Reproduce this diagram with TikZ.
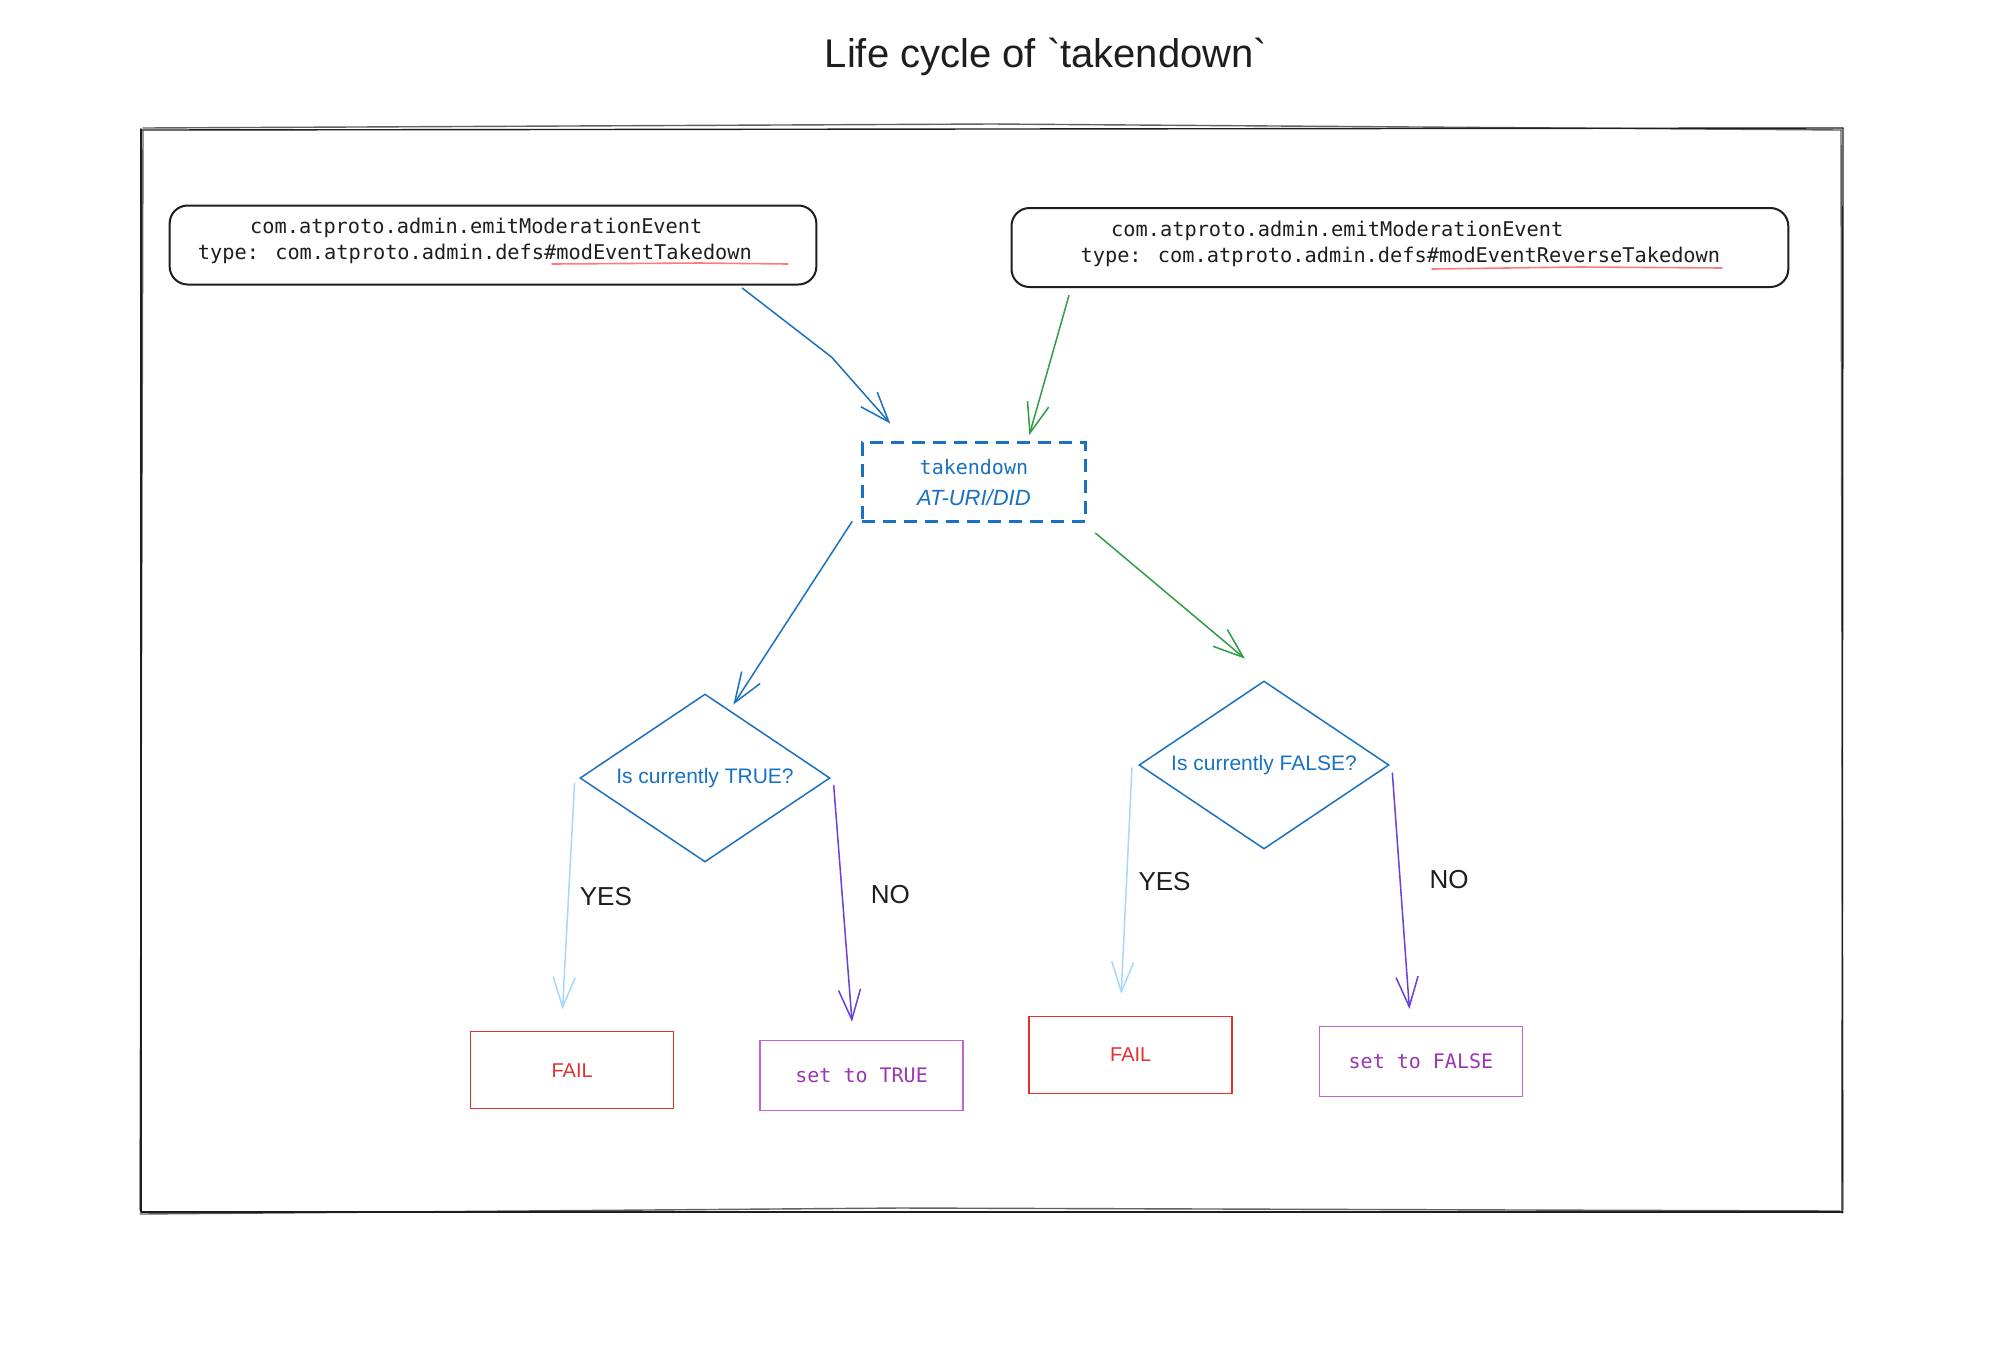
\documentclass[tikz,border=0pt]{standalone}
\usepackage{fontspec}
\usetikzlibrary{arrows.meta,shapes.geometric}
\newfontfamily\sansf{Liberation Sans}
\newfontfamily\monof{DejaVu Sans Mono}
\newfontfamily\titlef{Liberation Sans}
\definecolor{exdark}{HTML}{1E1E1E}
\definecolor{exblue}{HTML}{1971C2}
\definecolor{exgreen}{HTML}{2F9E44}
\definecolor{exlightblue}{HTML}{A5D8FF}
\definecolor{exviolet}{HTML}{6741D9}
\definecolor{exred}{HTML}{E03131}
\definecolor{expurple}{HTML}{9C36B5}
\definecolor{exboxpurple}{HTML}{C065D6}
\definecolor{expink}{HTML}{FF7B7B}
\begin{document}
\begin{tikzpicture}[x=1pt,y=-1pt,
  frame/.style={draw=exdark, line width=1.4pt, line cap=round, line join=round},
  cmdbox/.style={draw=exdark, line width=2pt, rounded corners=18pt, inner sep=0pt, minimum height=79pt},
  code/.style={font={\monof\fontsize{20.3}{24}\selectfont}, text=exdark, anchor=west, inner sep=0pt},
  uline/.style={draw=expink, line width=1.6pt, line cap=round},
  corebox/.style={draw=exblue, line width=2.5pt, dash pattern=on 13pt off 8pt, minimum width=223pt, minimum height=79pt, inner sep=0pt, align=center, text=exblue, font={\monof\fontsize{20}{30.6}\selectfont}},
  dia/.style={diamond, aspect=1.5, draw=exblue, line width=1.5pt, minimum width=250pt, minimum height=168pt, inner sep=0pt, text=exblue, font={\sansf\fontsize{21}{25}\selectfont}},
  failbox/.style={draw=exred, line width=1.5pt, minimum width=203pt, minimum height=77pt, inner sep=0pt, text=exred, font={\sansf\fontsize{20}{24}\selectfont}},
  setbox/.style={draw=exboxpurple, line width=1.5pt, minimum width=203pt, minimum height=70pt, inner sep=0pt, text=expurple, font={\monof\fontsize{20}{24}\selectfont}},
  lbl/.style={font={\sansf\fontsize{26}{30}\selectfont}, text=exdark, inner sep=0pt},
  arr/.style={line width=1.5pt, line cap=round, line join=round, -{Straight Barb[length=30pt,width=22pt]}}
]
\useasboundingbox (0,0) rectangle (2000,1369);
\fill[white] (0,0) rectangle (2000,1369);

% title
\node[font={\titlef\fontsize{40}{46}\selectfont}, text=exdark, inner sep=0pt] (title) at (1046,57) {Life cycle of \textasciigrave takendown\textasciigrave};

% outer sketchy frame
\draw[frame] (141,130) -- (1843,128);
\draw[frame, draw opacity=0.7] (143,128) -- (992,124) -- (1841,130);
\draw[frame] (141,129) -- (141,1212);
\draw[frame, draw opacity=0.7] (143,131) -- (140,1210);
\draw[frame] (141,1212) -- (1843,1212);
\draw[frame, draw opacity=0.7] (140,1214) -- (900,1208) -- (1840,1211);
\draw[frame] (1843,128) -- (1842,1213);
\draw[frame, draw opacity=0.7] (1841,130) -- (1843,1210);

% command boxes
\node[cmdbox, minimum width=646.7pt] (box1) at (493,245) {};
\node[code] (b1l1) at (250,228.3) {com.atproto.admin.emitModerationEvent};
\node[code] (b1l2) at (197.7,253.8) {type: com.atproto.admin.defs\#modEventTakedown};
\draw[uline] (552,264) -- (700,263) -- (788,264);

\node[cmdbox, minimum width=776.8pt] (box2) at (1399.9,247.5) {};
\node[code] (b2l1) at (1111,230.9) {com.atproto.admin.emitModerationEvent};
\node[code] (b2l2) at (1080.4,256.4) {type: com.atproto.admin.defs\#modEventReverseTakedown};
\draw[uline] (1432,269) -- (1580,267) -- (1722,268);

% core node
\node[corebox] (core) at (973.9,482.2) {takendown\\{\sansf\itshape\fontsize{22}{30.6}\selectfont AT-URI/DID}};

% decisions
\node[dia] (d1) at (705,778) {Is currently TRUE?};
\node[dia] (d2) at (1264,765) {Is currently FALSE?};

% outcomes
\node[failbox] (fail1) at (572.1,1070.2) {FAIL};
\node[setbox] (true1) at (861.6,1075.3) {set to TRUE};
\node[failbox] (fail2) at (1130.7,1054.9) {FAIL};
\node[setbox] (false2) at (1420.9,1061.3) {set to FALSE};

% labels
\node[lbl] (yes1) at (605.9,896.7) {YES};
\node[lbl] (no1) at (890.3,894.1) {NO};
\node[lbl] (yes2) at (1164.5,881.4) {YES};
\node[lbl] (no2) at (1449,880) {NO};

% connectors
\draw[arr, exblue] ([xshift=249.3pt,yshift=-2.6pt]box1.south) -- (831.6,357.1) -- ([xshift=-83.6pt,yshift=17.9pt]core.north);
\draw[arr, exgreen] ([xshift=-331pt,yshift=-7.6pt]box2.south) -- ([xshift=55.4pt,yshift=6.4pt]core.north);
\draw[arr, exblue] ([xshift=-121.9pt,yshift=1.3pt]core.south) -- ([xshift=28.4pt,yshift=-11.3pt]d1.north);
\draw[arr, exgreen] ([xshift=8.9pt,yshift=-10.2pt]core.south east) -- ([xshift=-19.1pt,yshift=21.6pt]d2.north);
\draw[arr, exlightblue] ([xshift=-4.7pt,yshift=-5.2pt]d1.west) -- ([xshift=-9.6pt,yshift=21.7pt]fail1.north);
\draw[arr, exviolet] ([xshift=3pt,yshift=-7.7pt]d1.east) -- ([xshift=-9.6pt,yshift=17.8pt]true1.north);
\draw[arr, exlightblue] ([xshift=-6.3pt,yshift=-2.9pt]d2.west) -- ([xshift=-9.5pt,yshift=21.7pt]fail2.north);
\draw[arr, exviolet] ([xshift=2.6pt,yshift=-8pt]d2.east) -- ([xshift=-11.5pt,yshift=16.6pt]false2.north);
\end{tikzpicture}
\end{document}
